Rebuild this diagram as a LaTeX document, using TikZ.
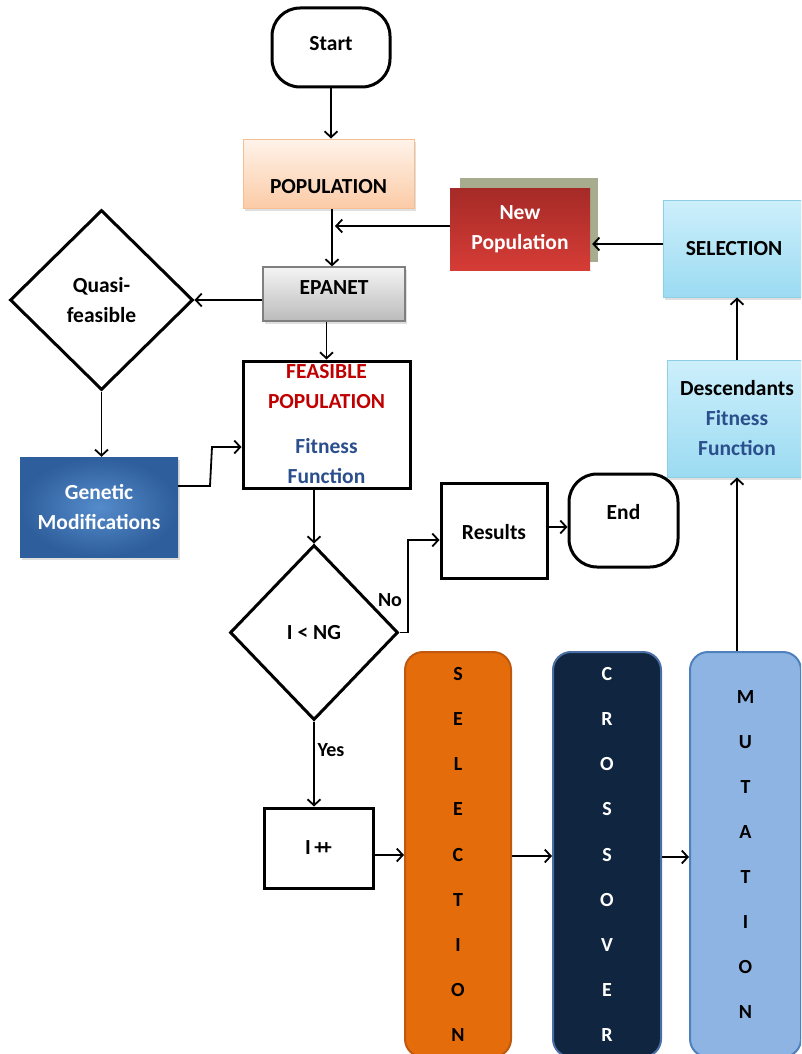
\documentclass[tikz,border=0pt]{standalone}
\usepackage{fontspec}
\setmainfont{Carlito}
\usetikzlibrary{arrows.meta,shapes.geometric,shadows,calc}
\definecolor{popTop}{HTML}{FFF3EA}
\definecolor{popBot}{HTML}{FBCBA6}
\definecolor{popBorder}{HTML}{F7BE91}
\definecolor{cyanTop}{HTML}{CDEFFB}
\definecolor{cyanBot}{HTML}{9BDBF2}
\definecolor{cyanBorder}{HTML}{8FCFE6}
\definecolor{grayTop}{HTML}{F4F4F4}
\definecolor{grayBot}{HTML}{BBBBBB}
\definecolor{grayBorder}{HTML}{7F7F7F}
\definecolor{redTop}{HTML}{A52A27}
\definecolor{redBot}{HTML}{D63C36}
\definecolor{oliveBack}{HTML}{A6AC8D}
\definecolor{blueIn}{HTML}{558BCB}
\definecolor{blueOut}{HTML}{2E5E9B}
\definecolor{featRed}{HTML}{C00000}
\definecolor{fitBlue}{HTML}{2B4F8C}
\definecolor{orangeBar}{HTML}{E46C0A}
\definecolor{orangeEdge}{HTML}{C0580F}
\definecolor{navyBar}{HTML}{10253F}
\definecolor{navyEdge}{HTML}{4A6FA5}
\definecolor{lightBar}{HTML}{8EB4E3}
\definecolor{lightEdge}{HTML}{4F81BD}
\tikzset{
  base/.style={font=\bfseries\fontsize{21.5}{30}\selectfont, inner sep=0pt, align=center},
  plainbox/.style={base, draw=black, line width=3pt, rectangle},
  termbox/.style={plainbox, rounded corners=28pt},
  decision/.style={base, draw=black, line width=3pt, diamond},
  bar/.style={base, rectangle, rounded corners=18pt, line width=2pt, minimum height=405,
     font=\bfseries\fontsize{20}{45.1}\selectfont},
  conn/.style={line width=1.8pt, -{Straight Barb[length=6pt,width=13pt]}},
  lab/.style={base, font=\bfseries\fontsize{20}{22}\selectfont},
  shadowed/.style={drop shadow={opacity=0.25, shadow xshift=2pt, shadow yshift=-3pt}}
}
\begin{document}
\begin{tikzpicture}[x=1pt,y=-1pt]
\useasboundingbox (0,0) rectangle (801,1054);
\clip (0,0) rectangle (801,1054);
\fill[white] (0,0) rectangle (801,1054);

% nodes
\node[termbox, minimum width=118, minimum height=79, text height=14pt, text depth=7pt] (start) at (331,47.5) {Start};
\node[base, shadowed, rectangle, draw=popBorder, line width=1pt, top color=popTop, bottom color=popBot,
      minimum width=171, minimum height=69, text height=39pt, text depth=0pt] (pop) at (328.5,173.5) {POPULATION};
\fill[oliveBack] (460,178) rectangle (598,262);
\node[base, rectangle, top color=redTop, bottom color=redBot, text=white,
      minimum width=140, minimum height=82] (newpop) at (520,229) {New\\Population};
\node[base, shadowed, rectangle, draw=cyanBorder, line width=1pt, top color=cyanTop, bottom color=cyanBot,
      minimum width=142, minimum height=97] (selbox) at (734,248.5) {SELECTION};
\node[base, shadowed, rectangle, draw=grayBorder, line width=1.2pt, top color=grayTop, bottom color=grayBot,
      minimum width=142, minimum height=54, text height=14pt, text depth=14pt] (epanet) at (334,294) {EPANET};
\node[decision, minimum width=183, minimum height=180] (quasi) at (101.5,300) {Quasi-\\feasible};
\node[base, shadowed, rectangle, inner color=blueIn, outer color=blueOut, text=white,
      minimum width=158, minimum height=100] (gen) at (99,507) {Genetic\\Modifications};
\node[plainbox, minimum width=167, minimum height=127] (feas) at (326.5,424.5)
      {\textcolor{featRed}{FEASIBLE}\\\textcolor{featRed}{POPULATION}\\[15pt]\textcolor{fitBlue}{Fitness}\\\textcolor{fitBlue}{Function}};
\node[decision, minimum width=168, minimum height=175] (ing) at (314,632.5) {I < NG};
\node[plainbox, minimum width=106, minimum height=95, text height=17pt, text depth=0pt] (results) at (494,530.5) {Results};
\node[termbox, minimum width=109, minimum height=93, text height=14pt, text depth=17pt] (end) at (623.5,520.5) {End};
\node[plainbox, minimum width=109, minimum height=80] (ipp) at (318.5,848) {I\,+\kern-4pt+};
\node[bar, fill=orangeBar, draw=orangeEdge, minimum width=106, text=black] (selbar) at (458,854.5)
      {S\\E\\L\\E\\C\\T\\I\\O\\N};
\node[bar, fill=navyBar, draw=navyEdge, minimum width=108, text=white] (crossbar) at (607,854.5)
      {C\\R\\O\\S\\S\\O\\V\\E\\R};
\node[bar, fill=lightBar, draw=lightEdge, minimum width=111, text=black] (mutbar) at (745.5,854.5)
      {M\\U\\T\\A\\T\\I\\O\\N};
\node[base, shadowed, rectangle, draw=cyanBorder, line width=1pt, top color=cyanTop, bottom color=cyanBot,
      minimum width=140, minimum height=117] (desc) at (737,418.5)
      {Descendants\\\textcolor{fitBlue}{Fitness}\\\textcolor{fitBlue}{Function}};
\node[lab] (nolab) at (390,600) {No};
\node[lab] (yeslab) at (331,750) {Yes};

% helper coordinates
\coordinate (popx) at ($(pop.south)+(3.5,0)$);
\coordinate (newend) at ($(pop.south |- 0,226)+(6.5,0)$);
\coordinate (selend) at ($(newpop.east |- 0,244)+(2,0)$);

% connectors
\draw[conn] (start.south) -- (start.south |- pop.north);
\draw[conn] (popx) -- (popx |- epanet.north);
\draw[conn] (newpop.west |- newend) -- (newend);
\draw[conn] (selbox.west |- selend) -- (selend);
\draw[conn] (epanet.west |- quasi.east) -- (quasi.east);
\draw[conn] (quasi.south) -- (quasi.south |- gen.north);
\draw[conn] (gen.east |- 0,486) -- (210,486) -- (212,447) -- (feas.west |- 0,447);
\draw[conn] (feas.north |- epanet.south) -- (feas.north);
\draw[conn] (ing.north |- feas.south) -- (ing.north);
\draw[conn] (ing.east) -- (408,632.5) -- (408,540) -- (results.west |- 0,540);
\draw[conn] (results.east |- 0,527) -- (end.west |- 0,527);
\draw[conn] (ing.south) -- (ing.south |- ipp.north);
\draw[conn] (ipp.east |- 0,855) -- (selbar.west |- 0,855);
\draw[conn] (selbar.east |- 0,856) -- (crossbar.west |- 0,856);
\draw[conn] (crossbar.east |- 0,857) -- (mutbar.west |- 0,857);
\draw[conn] (mutbar.north -| 737,0) -- (desc.south -| 737,0);
\draw[conn] (desc.north -| 737,0) -- (selbox.south -| 737,0);
\end{tikzpicture}
\end{document}
